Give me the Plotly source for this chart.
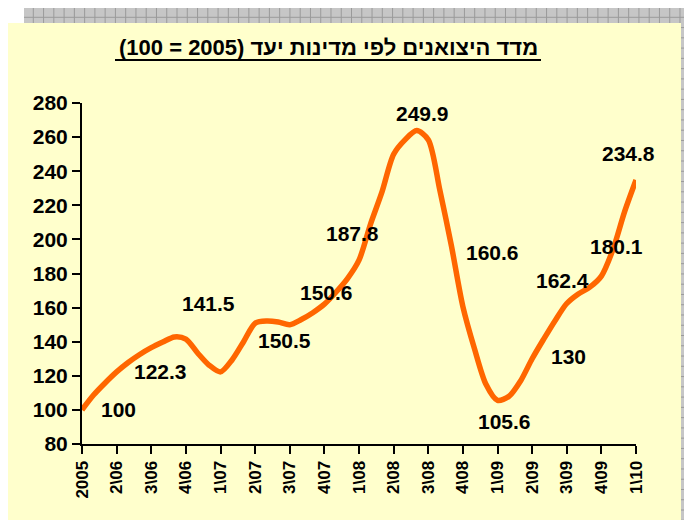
import plotly.graph_objects as go

# ---- data ----
tick_labels = ["2005", "2\\06", "3\\06", "4\\06", "1\\07", "2\\07", "3\\07", "4\\07",
               "1\\08", "2\\08", "3\\08", "4\\08", "1\\09", "2\\09", "3\\09", "4\\09", "1\\10"]
# monthly index values (3 points per labelled period)
index_values = [100, 108.7, 115.8, 122.3, 127.8, 132.5, 136.5, 139.8, 142.8, 141.5,
                133.5, 126.3, 122.3, 129.3, 140, 150.8, 152.1, 151.5, 150, 153,
                157, 162, 169, 177, 187.8, 209, 228, 249.9, 258.5, 263.8,
                258.5, 229, 196.5, 160.6, 136, 115, 105.6, 108, 117, 130,
                141.5, 152.5, 162.4, 168, 172, 178.5, 194, 216, 234.8]
label_points = [0, 3, 9, 18, 21, 24, 27, 33, 36, 39, 42, 45, 48]
label_texts = ["100", "122.3", "141.5", "150.5", "150.6", "187.8", "249.9",
               "160.6", "105.6", "130", "162.4", "180.1", "234.8"]
title_text = "מדד היצואנים לפי מדינות יעד (2005 = 100)"

# ---- styling / layout ----
W, H = 684, 520
L, R, T, B = 82, 48, 103, 76
PW, PH = W - L - R, H - T - B
label_shifts = [(36, 0), (44, 0), (23, 36), (-5, -16), (2, 12), (-7, 27), (29, 41),
                (30, 54), (7, -21), (36, 2), (-4, 23), (15, 30), (-8, 27)]
FONT = "Liberation Sans, Arial"

def px(xp):
    return (xp - L) / PW

def py(yp):
    return (H - B - yp) / PH

x = list(range(len(index_values)))
step = (len(index_values) - 1) // (len(tick_labels) - 1)
tickvals = [i * step for i in range(len(tick_labels))]

fig = go.Figure()
fig.add_trace(go.Scatter(x=x, y=index_values, mode="lines",
                         line=dict(color="#FF6600", width=5.5, shape="spline", smoothing=0.8),
                         hoverinfo="skip", showlegend=False))

shapes = []
# grey grid strip behind the panel
shapes.append(dict(type="rect", xref="paper", yref="paper", layer="below",
                   x0=px(24), x1=px(700), y0=py(8), y1=py(540),
                   fillcolor="#c6c6c6", line=dict(width=0)))
k = 0
while 33.3 + 10.265 * k < 700:
    xv = 33.3 + 10.265 * k
    shapes.append(dict(type="line", xref="paper", yref="paper", layer="below",
                       x0=px(xv), x1=px(xv), y0=py(8), y1=py(540),
                       line=dict(color="#9a9a9a", width=1)))
    k += 1
k = 0
while 17.3 + 10.265 * k < 540:
    yv = 17.3 + 10.265 * k
    shapes.append(dict(type="line", xref="paper", yref="paper", layer="below",
                       x0=px(24), x1=px(700), y0=py(yv), y1=py(yv),
                       line=dict(color="#9a9a9a", width=1)))
    k += 1
# yellow panel
shapes.append(dict(type="rect", xref="paper", yref="paper", layer="below",
                   x0=px(8), x1=px(681), y0=py(23), y1=py(540),
                   fillcolor="#FFFFCC", line=dict(width=0)))
# title underline
shapes.append(dict(type="line", xref="paper", yref="paper", layer="above",
                   x0=px(115), x1=px(541), y0=py(60), y1=py(60),
                   line=dict(color="black", width=2)))

annotations = [dict(xref="paper", yref="paper", x=px(328), y=py(48),
                    xanchor="center", yanchor="middle", showarrow=False,
                    text="\u202B" + title_text + "\u202C",
                    font=dict(family=FONT, size=22, color="black", weight="bold"))]
for idx, txt, (dx, dy) in zip(label_points, label_texts, label_shifts):
    annotations.append(dict(x=idx, y=index_values[idx], xref="x", yref="y",
                            text=txt, showarrow=False, xshift=dx, yshift=dy,
                            xanchor="center", yanchor="middle",
                            font=dict(family=FONT, size=21, color="black", weight="bold")))

fig.update_layout(
    width=W, height=H,
    margin=dict(l=L, r=R, t=T, b=B, autoexpand=False),
    paper_bgcolor="white",
    plot_bgcolor="rgba(0,0,0,0)",
    shapes=shapes,
    annotations=annotations,
    xaxis=dict(range=[0, len(index_values) - 1], tickvals=tickvals, ticktext=tick_labels,
               tickangle=-90, ticks="outside", ticklen=8, tickwidth=1.5, tickcolor="black",
               showline=True, linecolor="black", linewidth=2, showgrid=False, zeroline=False,
               tickfont=dict(family=FONT, size=17, color="black", weight="bold")),
    yaxis=dict(range=[80, 280], dtick=20, ticks="outside", ticklen=8, tickwidth=1.5,
               tickcolor="black", showline=True, linecolor="black", linewidth=2,
               showgrid=False, zeroline=False,
               tickfont=dict(family=FONT, size=21, color="black", weight="bold")),
)

fig.write_html("out.html", config={"displayModeBar": False},
               post_script="document.body.style.margin='0';document.body.style.overflow='hidden';")
